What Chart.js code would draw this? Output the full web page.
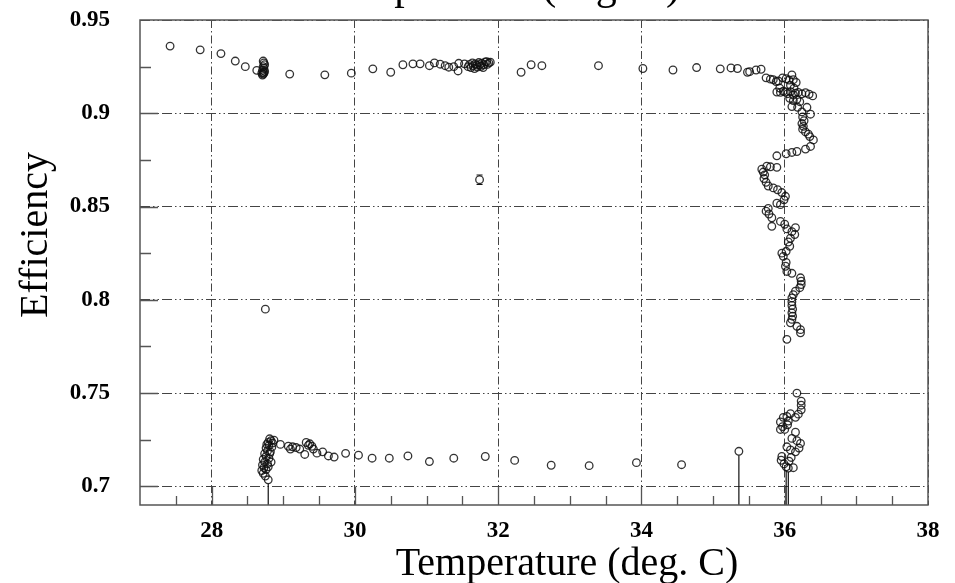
<!DOCTYPE html>
<html>
<head>
<meta charset="utf-8">
<script src="https://cdn.jsdelivr.net/npm/chart.js@4.4.0/dist/chart.umd.min.js"></script>
<style>
  html, body { margin: 0; padding: 0; background: #fff; }
  #wrap { width: 955px; height: 583px; position: relative; }
</style>
</head>
<body>
<div id="wrap"><canvas id="eff-temp"></canvas></div>
<script>
(function () {
    "use strict";

    // Temperature (deg. C) of each measurement
    var temps = [
        // upper branch
        27.42, 27.84, 28.13, 28.33, 28.47, 28.63,
        28.71, 28.72, 28.73, 28.72, 28.74, 28.71, 28.73, 28.72, 28.74, 28.73, 28.72, 28.70,
        29.09, 29.58, 29.95, 30.25, 30.50, 30.67, 30.81, 30.91, 31.04, 31.11, 31.19, 31.26,
        31.31, 31.38, 31.44, 31.45, 31.53,
        31.58, 31.60, 31.62, 31.64, 31.65, 31.67, 31.68, 31.70, 31.71, 31.73, 31.74, 31.76,
        31.77, 31.79, 31.80, 31.82, 31.84, 31.85, 31.87, 31.89,
        32.32, 32.46, 32.61, 33.40, 34.02, 34.44, 34.77, 35.10, 35.25, 35.34, 35.48, 35.51,
        35.60, 35.67,
        // right hand drift at ~36 deg
        35.74, 35.80, 35.84, 35.88, 35.91, 35.97, 36.02, 36.06, 36.10, 36.12, 36.16, 36.08,
        36.13, 35.93, 35.89, 35.94, 35.98, 36.01, 36.04, 36.08, 36.12, 36.15, 36.19, 36.24,
        36.29, 36.34, 36.39, 36.07, 36.12, 36.17, 36.21, 36.10, 36.18, 36.31, 36.24, 36.36,
        36.25, 36.27, 36.24, 36.26, 36.25, 36.29, 36.33, 36.35, 36.40, 36.36, 36.29, 36.17,
        36.10, 36.02, 35.89, 35.89, 35.80, 35.75, 35.68, 35.70, 35.72, 35.71, 35.74, 35.77,
        35.84, 35.90, 35.96, 36.01, 35.99, 35.89, 35.94, 35.77, 35.74, 35.78, 35.82, 35.82,
        35.94, 36.00, 36.03, 36.15, 36.10, 36.14, 36.08, 36.05, 36.07, 36.02, 35.96, 35.98,
        36.02, 36.01, 36.03, 36.10, 36.22, 36.23, 36.23, 36.21, 36.15, 36.12, 36.10, 36.10,
        36.10, 36.11, 36.10, 36.11, 36.10, 36.08, 36.17, 36.22, 36.22, 36.03,
        // lower right cluster
        36.17, 36.23, 36.23, 36.23, 36.19, 36.15, 36.08, 36.03, 35.98, 35.94, 35.97, 35.94,
        36.00, 36.04, 36.05, 36.15, 36.10, 36.17, 36.22, 36.20, 36.15, 36.08, 36.03, 35.96,
        35.95, 35.99, 36.02, 36.05, 36.12, 36.06, 36.09,
        // lower branch
        28.79, 28.75, 28.72, 28.70, 28.73, 28.76, 28.71, 28.74, 28.78, 28.72, 28.76, 28.80,
        28.74, 28.78, 28.82, 28.76, 28.80, 28.84, 28.79, 28.83, 28.87, 28.81, 28.85, 28.77,
        28.81, 28.83, 28.79,
        28.96, 29.07, 29.10, 29.13, 29.18, 29.23, 29.32, 29.35, 29.37, 29.40, 29.30, 29.42,
        29.47, 29.55, 29.63, 29.71, 29.87, 30.05, 30.24, 30.48, 30.74, 31.04, 31.38, 31.82,
        32.23, 32.74, 33.27, 33.93, 34.56, 35.36,
        // isolated
        28.75, 31.74
    ];

    // Efficiency of each measurement
    var effs = [
        0.936, 0.934, 0.932, 0.928, 0.925, 0.923,
        0.9205, 0.921, 0.9215, 0.922, 0.9225, 0.923, 0.924, 0.925, 0.926, 0.927, 0.928, 0.9215,
        0.921, 0.9206, 0.9215, 0.9238, 0.922, 0.926, 0.9265, 0.9265, 0.9255, 0.927, 0.9263, 0.9255,
        0.9247, 0.925, 0.9227, 0.9268, 0.9265,
        0.925, 0.9262, 0.9245, 0.927, 0.9255, 0.924, 0.9265, 0.9258, 0.9248, 0.9272, 0.926, 0.9252,
        0.9268, 0.9245, 0.926, 0.9275, 0.9277, 0.9262, 0.927, 0.9274,
        0.922, 0.926, 0.9255, 0.9255, 0.924, 0.9232, 0.9245, 0.9238, 0.9243, 0.924, 0.922, 0.9223,
        0.9232, 0.9236,
        0.919, 0.9183, 0.918, 0.917, 0.9173, 0.919, 0.9185, 0.9178, 0.9206, 0.918, 0.9165, 0.915,
        0.9135, 0.9135, 0.9114, 0.9112, 0.9118, 0.9114, 0.9105, 0.9116, 0.9098, 0.9108, 0.9112, 0.9104,
        0.911, 0.9102, 0.9093, 0.908, 0.9068, 0.9075, 0.9062, 0.9036, 0.9032, 0.9032, 0.9007, 0.8995,
        0.898, 0.896, 0.8945, 0.893, 0.8915, 0.890, 0.8888, 0.8875, 0.8857, 0.8822, 0.8808, 0.8795,
        0.879, 0.8783, 0.8772, 0.871, 0.8713, 0.8716, 0.870, 0.8685, 0.867, 0.865, 0.863, 0.861,
        0.860, 0.859, 0.8575, 0.8555, 0.8536, 0.8518, 0.851, 0.849, 0.8475, 0.846, 0.844, 0.8394,
        0.842, 0.8405, 0.838, 0.8387, 0.8365, 0.835, 0.833, 0.831, 0.8287, 0.826, 0.825, 0.8233,
        0.820, 0.818, 0.8152, 0.8142, 0.8118, 0.810, 0.8082, 0.8065, 0.8046, 0.8028, 0.801, 0.799,
        0.797, 0.795, 0.793, 0.7912, 0.7895, 0.7877, 0.7858, 0.784, 0.7823, 0.7788,
        0.750, 0.7457, 0.7435, 0.741, 0.7387, 0.737, 0.739, 0.7375, 0.737, 0.7345, 0.732, 0.7305,
        0.7305, 0.733, 0.735, 0.729, 0.7257, 0.7245, 0.723, 0.7205, 0.7185, 0.7195, 0.7212, 0.716,
        0.714, 0.712, 0.7105, 0.7098, 0.710, 0.7135, 0.7155,
        0.7035, 0.7055, 0.707, 0.7085, 0.710, 0.709, 0.7115, 0.713, 0.712, 0.7145, 0.716, 0.715,
        0.7175, 0.719, 0.7185, 0.7205, 0.722, 0.721, 0.7235, 0.7245, 0.7248, 0.7255, 0.7232, 0.7225,
        0.7175, 0.713, 0.7105,
        0.7225, 0.7215, 0.720, 0.7212, 0.7208, 0.720, 0.7235, 0.722, 0.7228, 0.7215, 0.7171, 0.720,
        0.7178, 0.7185, 0.7163, 0.7157, 0.7177, 0.7167, 0.7151, 0.7151, 0.7163, 0.7133, 0.7151, 0.716,
        0.7139, 0.7113, 0.7111, 0.7127, 0.7116, 0.7188,
        0.795, 0.8644
    ];

    // Points carrying visible error bars
    var errT = [28.79, 35.36, 36.02, 36.05, 31.74];
    var errE = [0.7035, 0.7188, 0.7105, 0.7098, 0.8644];
    var errLo = [0.05, 0.05, 0.05, 0.05, 0.0025];
    var errHi = [0.001, 0.001, 0.001, 0.001, 0.0025];

    // Axis ticks
    var xTickValues = [28, 30, 32, 34, 36, 38];
    var yTickValues = [0.7, 0.75, 0.8, 0.85, 0.9, 0.95];
    var xMinorStep = 0.5;
    var yMinorStep = 0.025;

    var serif = "'Liberation Serif', 'DejaVu Serif', serif";

    var points = temps.map(function (t, i) { return { x: t, y: effs[i] }; });

    function noPad(s) {
        s.paddingTop = 0;
        s.paddingBottom = 0;
        s.paddingLeft = 0;
        s.paddingRight = 0;
    }

    // ROOT style frame, inner ticks, error bars and titles
    var rootStyle = {
        id: "rootStyle",
        afterDatasetsDraw: function (chart) {
            var ctx = chart.ctx, a = chart.chartArea;
            var xs = chart.scales.x, ys = chart.scales.y;

            // error bars
            ctx.save();
            ctx.beginPath();
            ctx.rect(a.left, a.top, a.right - a.left, a.bottom - a.top);
            ctx.clip();
            ctx.strokeStyle = "#111";
            ctx.lineWidth = 1.2;
            for (var i = 0; i < errT.length; i++) {
                var px = xs.getPixelForValue(errT[i]);
                var pc = ys.getPixelForValue(errE[i]);
                var pt = ys.getPixelForValue(errE[i] + errHi[i]);
                var pb = ys.getPixelForValue(errE[i] - errLo[i]);
                ctx.beginPath();
                if (pc - pt > 4) {
                    ctx.moveTo(px, pt); ctx.lineTo(px, pc - 4);
                    ctx.moveTo(px - 3, pt); ctx.lineTo(px + 3, pt);
                }
                if (pb - pc > 4) {
                    ctx.moveTo(px, pc + 4); ctx.lineTo(px, pb);
                    ctx.moveTo(px - 3, pb); ctx.lineTo(px + 3, pb);
                }
                ctx.stroke();
            }
            ctx.restore();

            // frame
            ctx.save();
            ctx.strokeStyle = "#555";
            ctx.lineWidth = 1.5;
            ctx.strokeRect(a.left, a.top, a.right - a.left, a.bottom - a.top);

            // inner ticks
            ctx.lineWidth = 1.3;
            ctx.beginPath();
            var v, p, major;
            for (v = xs.min + xMinorStep; v < xs.max - 1e-6; v += xMinorStep) {
                p = Math.round(xs.getPixelForValue(v)) + 0.5;
                major = xTickValues.some(function (t) { return Math.abs(t - v) < 1e-6; });
                ctx.moveTo(p, a.bottom);
                ctx.lineTo(p, a.bottom - (major ? 18 : 9));
            }
            for (v = 0.7; v < ys.max - 1e-6; v += yMinorStep) {
                p = Math.round(ys.getPixelForValue(v)) + 0.5;
                major = yTickValues.some(function (t) { return Math.abs(t - v) < 1e-6; });
                ctx.moveTo(a.left, p);
                ctx.lineTo(a.left + (major ? 18 : 11), p);
            }
            ctx.stroke();
            ctx.restore();
        },
        afterDraw: function (chart) {
            var ctx = chart.ctx;
            ctx.save();
            ctx.fillStyle = "#000";
            ctx.textAlign = "center";
            ctx.textBaseline = "alphabetic";
            // plot title, cut by the top of the image
            ctx.font = "42px " + serif;
            ctx.fillText("Temperature (deg. C)", 500, -1);
            // x axis title
            ctx.font = "40px " + serif;
            ctx.fillText("Temperature (deg. C)", 567, 575);
            // y axis title
            ctx.translate(47, 235);
            ctx.rotate(-Math.PI / 2);
            ctx.fillText("Efficiency", 0, 0);
            ctx.restore();
        }
    };

    var ctx1 = document.getElementById("eff-temp").getContext("2d");
    var myChart1 = new Chart(ctx1, {
        type: "scatter",
        data: {
            datasets: [{
                label: "Efficiency",
                data: points,
                pointStyle: "circle",
                pointRadius: 3.8,
                pointBorderWidth: 1.3,
                borderColor: "rgba(15, 15, 15, .85)",
                backgroundColor: "rgba(0, 0, 0, 0)"
            }]
        },
        options: {
            responsive: true,
            maintainAspectRatio: false,
            animation: false,
            layout: { padding: { top: 20, right: 27, left: 0, bottom: 0 } },
            plugins: {
                legend: { display: false },
                tooltip: { enabled: false },
                title: { display: false }
            },
            scales: {
                x: {
                    type: "linear",
                    min: 27,
                    max: 38,
                    afterBuildTicks: function (s) {
                        s.ticks = xTickValues.map(function (v) { return { value: v }; });
                    },
                    afterFit: function (s) { s.height = 78; noPad(s); },
                    grid: { color: "#444", lineWidth: 1, drawTicks: false },
                    border: { display: false, dash: [8, 3, 1.5, 3] },
                    ticks: {
                        padding: 12,
                        color: "#000",
                        font: { family: serif, size: 23, weight: "bold" },
                        callback: function (v) { return String(v); }
                    }
                },
                y: {
                    type: "linear",
                    min: 0.69,
                    max: 0.95,
                    afterBuildTicks: function (s) {
                        s.ticks = yTickValues.map(function (v) { return { value: v }; });
                    },
                    afterFit: function (s) { s.width = 140; noPad(s); },
                    grid: { color: "#444", lineWidth: 1, drawTicks: false },
                    border: { display: false, dash: [10, 3, 1.5, 3, 1.5, 3] },
                    ticks: {
                        padding: 30,
                        color: "#000",
                        font: { family: serif, size: 23, weight: "bold" },
                        callback: function (v) { return String(+v.toFixed(2)); }
                    }
                }
            }
        },
        plugins: [rootStyle]
    });
})();
</script>
</body>
</html>
